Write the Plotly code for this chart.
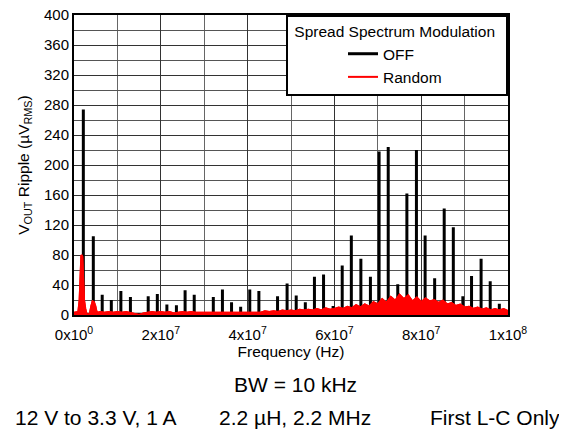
import plotly.graph_objects as go

# black trace (SSM off): harmonic spikes, frequency in MHz and peak in uV rms
off_freq_mhz = [2.15, 4.45, 6.5, 8.6, 10.8, 13.0, 17.1, 19.2, 21.4, 23.6, 25.6, 27.7,
                32.1, 34.2, 36.3, 38.4, 40.5, 42.6, 44.7, 46.9, 49.1, 51.2, 53.3, 55.4,
                57.5, 59.7, 61.8, 63.9, 66.1, 68.3, 70.3, 72.4, 74.6, 76.7, 78.9, 80.9,
                83.1, 85.3, 87.4, 89.6, 91.6, 93.8, 95.9, 98.0]
off_peak = [274, 105, 27, 20, 32, 24, 25, 28, 14, 13, 33, 27,
            24, 34, 17, 11, 34, 32, 3, 25, 42, 26, 17, 51,
            54, 12, 66, 106, 75, 51, 218, 224, 41, 162, 220, 106,
            49, 142, 117, 25, 52, 75, 45, 15]
off_floor = 1

# red trace (random SSM): spread noise level
rand_freq_mhz = [0, 0.5, 1.0, 1.3, 1.5, 1.7, 1.9, 2.1, 2.3, 2.6, 2.9, 3.3, 3.7, 4.0, 4.3,
                 4.6, 4.9, 5.2, 5.6, 6, 7, 8, 9, 10, 11, 12, 13, 14, 15, 16, 17, 18, 19,
                 20, 21, 22, 23, 24, 25, 26, 27, 28, 29, 30, 31, 32, 33, 34, 35, 36, 37,
                 38, 39, 40, 41, 42, 43, 44, 45, 46, 47, 48, 49, 50, 51, 52, 53, 54, 55,
                 56, 57, 58, 59, 60, 61, 62, 63, 64, 65, 66, 67, 68, 69, 70, 71, 72, 73,
                 74, 75, 76, 77, 78, 79, 80, 81, 82, 83, 84, 85, 86, 87, 88, 89, 90, 91,
                 92, 93, 94, 95, 96, 97, 98, 99, 100]
rand_level = [3, 4, 4, 20, 60, 80, 78, 45, 20, 8, 1, 0, 3, 12, 18,
              17, 12, 4, 3, 4, 3, 4, 3, 4, 3, 4, 3, 2, 0, 2, 3, 4, 3,
              4, 3, 4, 2, 3, 4, 3, 4, 3, 3, 4, 3, 4, 3, 4, 3, 4, 3,
              4, 4, 3, 4, 4, 3, 5, 4, 5, 4, 6, 5, 6, 5, 7, 6, 7, 6,
              8, 6, 9, 7, 8, 10, 8, 11, 9, 13, 10, 14, 11, 17, 14, 21, 16, 24,
              19, 27, 21, 26, 18, 23, 17, 22, 18, 20, 16, 19, 14, 16, 12, 14, 10, 11,
              8, 10, 7, 9, 6, 8, 6, 8, 5, 7, 8]

x_ticks = [0, 2e7, 4e7, 6e7, 8e7, 1e8]
x_labels = ["0x10<sup>0</sup>", "2x10<sup>7</sup>", "4x10<sup>7</sup>",
            "6x10<sup>7</sup>", "8x10<sup>7</sup>", "1x10<sup>8</sup>"]

# build the spike line from the harmonic list
off_x, off_y = [0], [off_floor]
for f, h in zip(off_freq_mhz, off_peak):
    off_x += [f * 1e6, f * 1e6, f * 1e6]
    off_y += [off_floor, h, off_floor]
off_x.append(1e8)
off_y.append(off_floor)
rand_x = [f * 1e6 for f in rand_freq_mhz]

fig = go.Figure()
fig.add_trace(go.Scatter(
    x=off_x, y=off_y, mode="lines", name="OFF",
    line=dict(color="black", width=3),
))
# filled noise band, then the same level as a line for the legend entry
fig.add_trace(go.Scatter(
    x=rand_x, y=rand_level, mode="lines", showlegend=False, legendgroup="rand",
    line=dict(color="#ff0000", width=2), fill="tozeroy", fillcolor="#ff0000",
))
fig.add_trace(go.Scatter(
    x=rand_x, y=rand_level, mode="lines", name="Random", legendgroup="rand",
    line=dict(color="#ff0000", width=2),
))

# page body has an 8px margin, so the figure sits 8px in from the window corner
font = "Liberation Sans, Arial, sans-serif"
fig.update_layout(
    width=551, height=424,
    margin=dict(l=66, r=51, t=7, b=117),
    paper_bgcolor="white", plot_bgcolor="white",
    font=dict(family=font, size=15, color="black"),
    showlegend=True,
    legend=dict(
        x=1, xanchor="right", y=1, yanchor="top",
        bgcolor="white", bordercolor="black", borderwidth=2,
        title=dict(text="\u00a0Spread Spectrum Modulation\u00a0\u00a0", side="top",
                   font=dict(size=15.5)),
        font=dict(size=15.5), indentation=55, tracegroupgap=0,
    ),
)
fig.update_xaxes(
    range=[0, 1e8], tickmode="array", tickvals=x_ticks, ticktext=x_labels,
    ticks="", showline=True, linecolor="black", linewidth=2, mirror=True,
    showgrid=True, gridcolor="#333333", gridwidth=1, zeroline=False, automargin=False,
    minor=dict(tick0=0, dtick=1e7, showgrid=True, gridcolor="#666666", gridwidth=1),
    title=dict(text="Frequency (Hz)", font=dict(size=15.5), standoff=0),
    tickfont=dict(size=15), ticklabelstandoff=5, ticklabeloverflow="allow",
)
fig.update_yaxes(
    range=[0, 400], tick0=0, dtick=40,
    ticks="", showline=True, linecolor="black", linewidth=2, mirror=True,
    showgrid=True, gridcolor="#333333", gridwidth=1, zeroline=False, automargin=False,
    minor=dict(tick0=0, dtick=20, showgrid=True, gridcolor="#555555", gridwidth=1),
    title=dict(text="V<sub>OUT</sub> Ripple (µV<sub>RMS</sub>)", font=dict(size=15.5),
               standoff=11),
    tickfont=dict(size=15), ticklabeloverflow="allow",
)

notes = [
    ("BW = 10 kHz", 0.5115, -0.233),
    ("12 V to 3.3 V, 1 A", 0.0518, -0.343),
    ("2.2 µH, 2.2 MHz", 0.509, -0.343),
    ("First L-C Only", 0.971, -0.343),
]
for text, nx, ny in notes:
    fig.add_annotation(text=text, x=nx, y=ny, xref="paper", yref="paper",
                       xanchor="center", yanchor="middle", showarrow=False,
                       font=dict(size=21))

fig.write_html("out.html")
